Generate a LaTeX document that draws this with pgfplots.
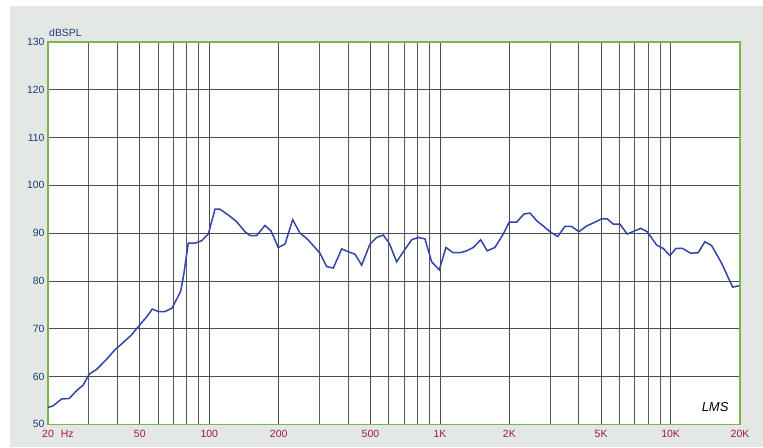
\documentclass[border=0pt]{standalone}
\usepackage{fontspec}
\setmainfont{Liberation Sans}
\usepackage{pgfplots}
\pgfplotsset{compat=1.18}
\definecolor{bgg}{HTML}{E4E8E4}
\definecolor{frameg}{HTML}{7AB648}
\definecolor{ylab}{HTML}{1E3C78}
\definecolor{xlab}{HTML}{A01848}
\definecolor{curve}{HTML}{3344AA}
\begin{document}
\begin{tikzpicture}[x=1bp,y=1bp]
\fill[white] (0,0) rectangle (763,448);
\fill[bgg] (10,1.3) rectangle (763,442);
\begin{axis}[
  at={(48bp,23.7bp)}, anchor=south west,
  scale only axis, width=692bp, height=382.3bp,
  xmode=log, xmin=20, xmax=20000, ymin=50, ymax=130,
  ytick={50,60,...,130},
  xtick={20,50,100,200,500,1000,2000,5000,10000,20000},
  xticklabels={20\rlap{\hspace{7bp}Hz},50,100,200,500,1K,2K,5K,10K,20K},
  minor xtick={30,40,60,70,80,90,300,400,600,700,800,900,3000,4000,6000,7000,8000,9000},
  grid=both,
  major grid style={draw=black!70, line width=0.8bp},
  minor grid style={draw=black!65, line width=0.8bp},
  axis line style={draw=frameg, line width=1.4bp},
  tick style={draw=none},
  axis background/.style={fill=white},
  /pgf/number format/assume math mode=true,
  yticklabel style={text=ylab, font=\fontsize{10.5}{12}\selectfont},
  xticklabel style={text=xlab, font=\fontsize{10.5}{12}\selectfont, yshift=-2bp},
  clip=false,
]
\addplot[curve, line width=1.5bp] table {
x y
20 53.5
21.1 53.9
22.9 55.3
24.7 55.4
26.6 57.05
28.4 58.2
30.2 60.5
32.5 61.5
35.9 63.6
39.0 65.6
41.0 66.5
45.8 68.6
51.0 71.3
53.6 72.5
56.6 74.1
60.1 73.6
64.3 73.6
68.9 74.3
75.2 77.8
77.7 81.6
81.1 87.9
86.7 87.9
92.7 88.4
99.1 89.8
105.9 95.0
111.4 95.0
120.9 93.8
131.5 92.4
142.9 90.3
150.2 89.5
160.6 89.5
174.4 91.6
185.2 90.5
199.2 87.0
213.0 87.7
230.0 92.8
247.4 90.0
264.5 88.9
282.5 87.4
302.0 85.8
323.0 83.0
345.0 82.7
375.2 86.7
400.7 86.1
428.3 85.6
457.9 83.3
497.4 87.7
532.0 89.1
568.2 89.6
603.1 87.9
649.3 84.0
693.7 86.1
754.3 88.6
805.7 89.1
861.4 88.8
921.0 84.0
993.8 82.3
1062 87.0
1142 85.9
1222 85.9
1306 86.3
1395 87.0
1502 88.6
1604 86.3
1732 87.0
1871 89.6
1998 92.3
2151 92.3
2314 94.0
2457 94.2
2627 92.6
2806 91.5
3020 90.2
3240 89.3
3484 91.4
3725 91.4
4007 90.3
4325 91.5
4652 92.2
5025 93.0
5314 93.0
5642 91.9
6032 91.9
6488 89.8
7008 90.5
7417 91.0
7920 90.3
8700 87.5
9293 86.8
9934 85.3
10548 86.8
11277 86.8
12212 85.8
13177 85.9
14086 88.2
15062 87.4
16647 83.7
18577 78.7
19845 79.0
};
\node[anchor=west, inner sep=0pt, text=ylab, font=\fontsize{10.5}{12}\selectfont] at (rel axis cs:0,1) [xshift=1bp, yshift=9bp] {dBSPL};
\node[inner sep=0pt, font=\fontsize{13}{14}\itshape] at (rel axis cs:0.964,0.045) {LMS};
\end{axis}
\end{tikzpicture}
\end{document}
